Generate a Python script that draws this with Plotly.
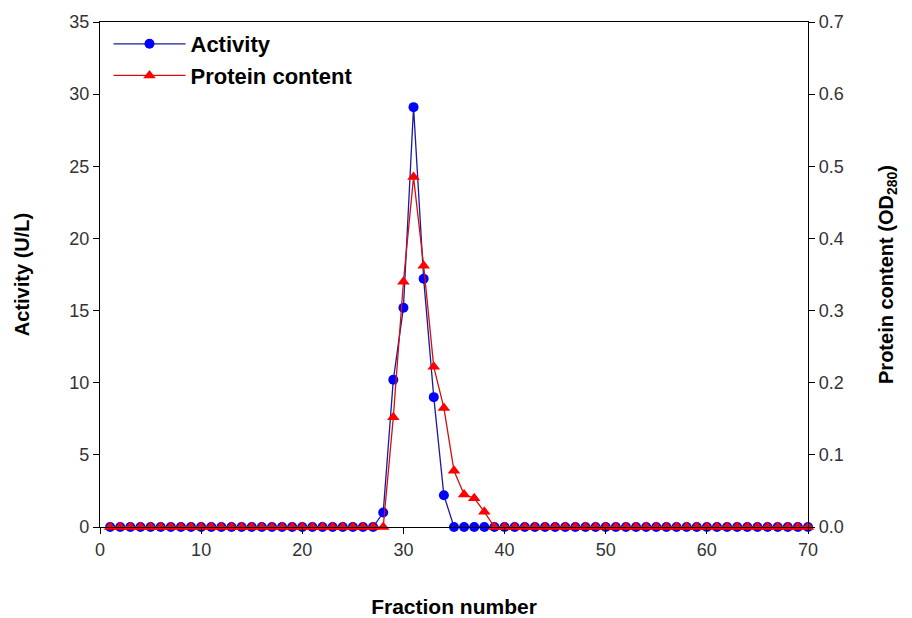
import plotly.graph_objects as go

fractions = list(range(1, 71))

activity_peak = {28: 1.0, 29: 10.2, 30: 15.2, 31: 29.1, 32: 17.2, 33: 9.0, 34: 2.2}
protein_peak = {29: 0.152, 30: 0.340, 31: 0.485, 32: 0.362, 33: 0.222, 34: 0.165,
                35: 0.078, 36: 0.045, 37: 0.040, 38: 0.021}

activity = [activity_peak.get(f, 0.0) for f in fractions]
protein = [protein_peak.get(f, 0.0) for f in fractions]

font_family = "Liberation Sans, Arial, sans-serif"

fig = go.Figure()
fig.add_trace(go.Scatter(
    x=fractions, y=activity, name="Activity", mode="lines+markers",
    line=dict(color="#1a1aa0", width=1.3),
    marker=dict(symbol="circle", size=10, color="#0000ff"),
    cliponaxis=False,
))
fig.add_trace(go.Scatter(
    x=fractions, y=protein, name="Protein content", mode="lines+markers", yaxis="y2",
    line=dict(color="#d01010", width=1.3),
    marker=dict(symbol="triangle-up", size=11, color="#ff0000"),
    cliponaxis=False,
))

axis_common = dict(
    showline=True, linecolor="black", linewidth=1.3,
    ticks="outside", ticklen=6, tickcolor="black", tickwidth=1,
    showgrid=False, zeroline=False, automargin=False,
    tickfont=dict(family=font_family, size=18, color="#333333"),
)

fig.update_layout(
    width=912, height=618,
    margin=dict(l=100, r=104, t=22, b=91),
    paper_bgcolor="white", plot_bgcolor="white",
    font=dict(family=font_family),
    showlegend=True,
    legend=dict(
        x=0.012, y=0.998, xanchor="left", yanchor="top",
        bgcolor="rgba(0,0,0,0)",
        font=dict(family=font_family, size=22, color="black", weight="bold"),
        itemwidth=72, tracegroupgap=0,
    ),
    xaxis=dict(
        range=[0, 70], dtick=10, tick0=0, mirror=True,
        title=dict(text="Fraction number", standoff=40,
                   font=dict(family=font_family, size=21, color="black", weight="bold")),
        **axis_common,
    ),
    yaxis=dict(
        range=[0, 35], dtick=5, tick0=0,
        title=dict(text="Activity (U/L)", standoff=34,
                   font=dict(family=font_family, size=20, color="black", weight="bold")),
        **axis_common,
    ),
    yaxis2=dict(
        range=[0, 0.7], dtick=0.1, tick0=0, tickformat=".1f",
        overlaying="y", side="right",
        title=dict(text="Protein content (OD<sub>280</sub>)", standoff=36,
                   font=dict(family=font_family, size=20, color="black", weight="bold")),
        **axis_common,
    ),
)

fig.write_html("out.html")
